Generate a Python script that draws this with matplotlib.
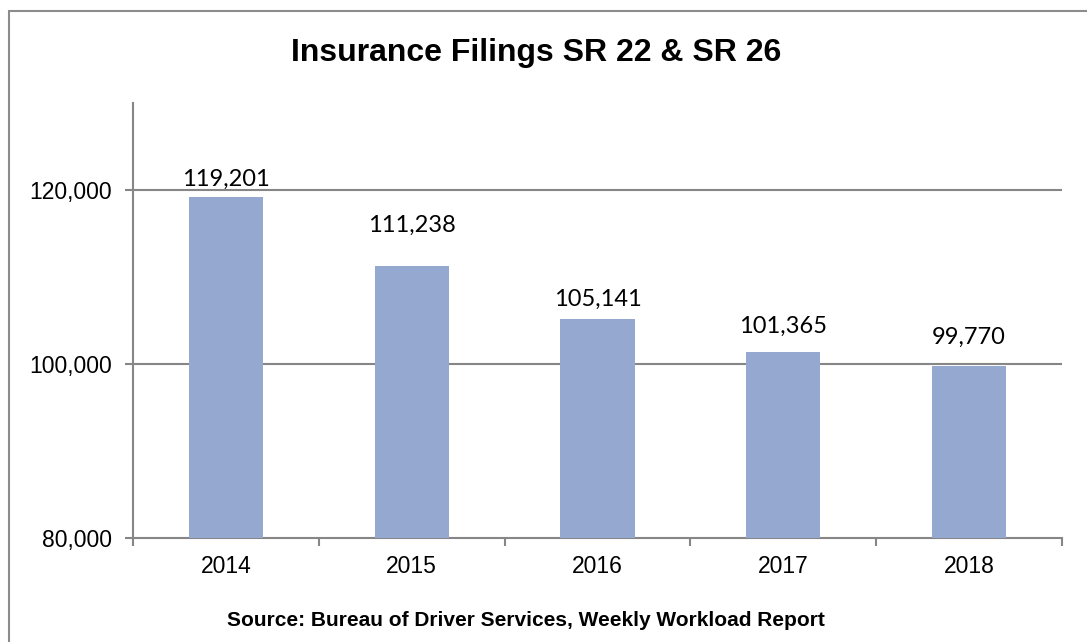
import matplotlib
matplotlib.use("Agg")
import matplotlib.pyplot as plt
from matplotlib.patches import Rectangle
from matplotlib.ticker import FuncFormatter

years = ["2014", "2015", "2016", "2017", "2018"]
filings = [119201, 111238, 105141, 101365, 99770]
yticks = [80000, 100000, 120000]

title = "Insurance Filings SR 22 & SR 26"
source = "Source: Bureau of Driver Services, Weekly Workload Report"

# style: vertical label offsets (pixels) above bar tops, as in the reference
label_offsets = [18, 41, 20, 26, 29]

W, H = 1087, 642
fig = plt.figure(figsize=(W / 100, H / 100), dpi=100)
fig.patch.set_facecolor("white")

# outer border (top and left visible)
fig.patches.append(Rectangle((9 / W, -0.1), 1.2, (H - 11) / H + 0.1,
                             transform=fig.transFigure, fill=False,
                             edgecolor="#8c8c8c", linewidth=1.5))

ax = fig.add_axes([133 / W, 1 - 538 / H, (1062 - 133) / W, (538 - 103) / H])
gray = "#868686"

x = list(range(len(years)))
ax.bar(x, filings, width=0.4, color="#95A9D0", zorder=3)

ax.set_xlim(-0.5, len(years) - 0.5)
ax.set_ylim(80000, 130000)

ax.set_yticks(yticks)
ax.yaxis.set_major_formatter(FuncFormatter(lambda v, p: f"{int(v):,}"))
ax.set_xticks(x)
ax.set_xticklabels(years)
ax.set_xticks([i - 0.5 for i in range(len(years) + 1)], minor=True)

ax.tick_params(axis="x", which="major", length=0, pad=12,
               labelsize=16.5)
ax.tick_params(axis="x", which="minor", length=6, width=1.5, color=gray,
               direction="out")
ax.tick_params(axis="y", length=6, width=1.5, color=gray, direction="out",
               labelsize=16.5, pad=9)
for lab in ax.get_xticklabels() + ax.get_yticklabels():
    lab.set_fontfamily("Liberation Sans")

for v in yticks[1:]:
    ax.axhline(v, color=gray, linewidth=1.5, zorder=1)

for s in ["top", "right"]:
    ax.spines[s].set_visible(False)
for s in ["left", "bottom"]:
    ax.spines[s].set_color(gray)
    ax.spines[s].set_linewidth(1.5)

for xi, v, off in zip(x, filings, label_offsets):
    ax.annotate(f"{v:,}", (xi, v), xytext=(0, off), textcoords="offset pixels",
                ha="center", va="center", fontsize=17, family="Lato",
                color="black", zorder=4)

fig.text(536 / W, 1 - 53 / H, title, ha="center", va="center",
         fontsize=23, fontweight="bold", family="Liberation Sans")
fig.text(526 / W, 1 - 621 / H, source, ha="center", va="center",
         fontsize=15, fontweight="bold", family="Liberation Sans")

fig.savefig("out.png", dpi=100, facecolor="white")
